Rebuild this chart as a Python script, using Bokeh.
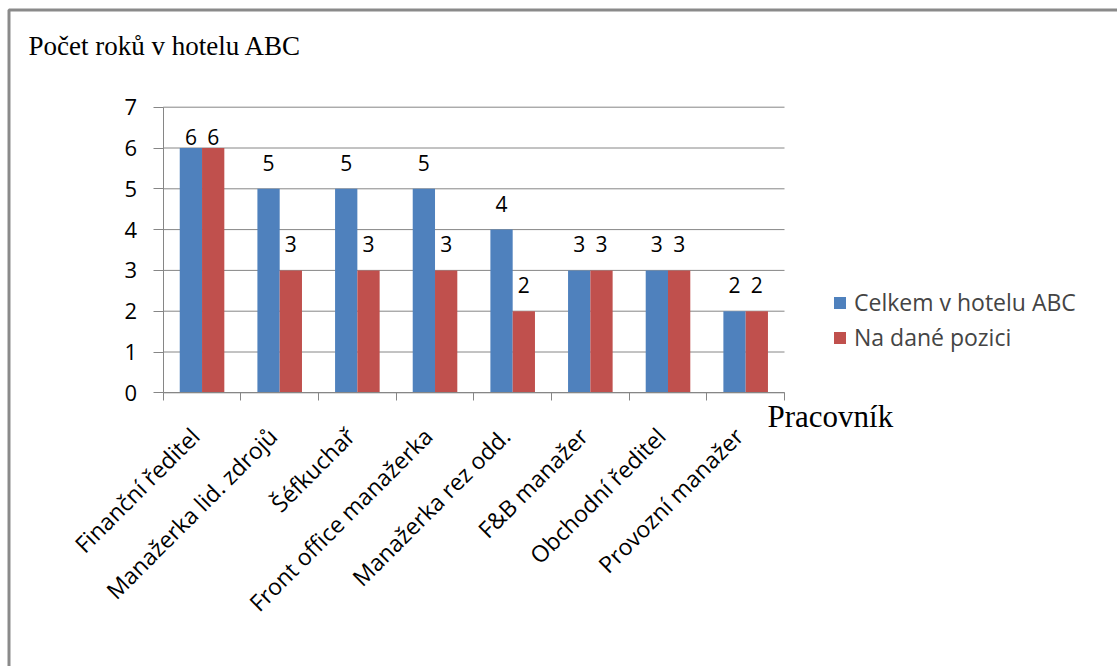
from math import pi
import numpy as np
from bokeh.plotting import figure
from bokeh.models import (ColumnDataSource, Range1d, LinearAxis, FixedTicker, Label, LabelSet,
                          Legend, LegendItem, BoxAnnotation)
from bokeh.core.properties import value
from bokeh.embed import file_html
from bokeh.resources import INLINE

# ---- data ----
categories = ["Finanční ředitel", "Manažerka lid. zdrojů", "Šéfkuchař", "Front office manažerka",
              "Manažerka rez odd.", "F&B manažer", "Obchodní ředitel", "Provozní manažer"]
celkem = [6, 5, 5, 5, 4, 3, 3, 2]
pozice = [6, 3, 3, 3, 2, 3, 3, 2]
series_names = ["Celkem v hotelu ABC", "Na dané pozici"]
y_ticks = [0, 1, 2, 3, 4, 5, 6, 7]
title_text = "Počet roků v hotelu ABC"
x_title = "Pracovník"

BLUE = "#4F81BD"
RED = "#C0504D"
GRAY = "#868686"
CAL = "Open Sans"
SERIF = "Liberation Serif"

# ---- layout (page pixels) ----
W, H = 1117, 666
PL, PR, PT, PB = 162.7, 784.0, 106.7, 392.3   # plot-area edges
n = len(categories)
ymax = y_ticks[-1]
kx = (PR - PL) / n
ky = (PB - PT) / ymax
x_start, x_end = -PL / kx, n + (W - PR) / kx
y_start, y_end = -(H - PB) / ky, ymax + PT / ky

centers = np.arange(n) + 0.5
bw = 0.287
label_shift = -7 / kx        # rotated category labels sit slightly left of the category centre

def offs(vals):
    return [3 if v >= max(vals) else 18 for v in vals]

src = ColumnDataSource(dict(
    xc=centers - bw / 2, xp=centers + bw / 2,
    celkem=celkem, pozice=pozice,
    celkem_t=[str(v) for v in celkem], pozice_t=[str(v) for v in pozice],
    off_c=offs(celkem), off_p=offs(pozice),
))

p = figure(width=W, height=H, x_range=Range1d(x_start, x_end), y_range=Range1d(y_start, y_end),
           output_backend="svg", toolbar_location=None,
           x_axis_location=None, y_axis_location=None,
           min_border=0, min_border_left=0, min_border_right=0, min_border_top=0, min_border_bottom=0)
p.outline_line_color = None
p.background_fill_color = "white"
p.border_fill_color = "white"
for g in p.grid:
    g.visible = False

# horizontal gridlines across the plot area
p.segment(x0=0, x1=n, y0=y_ticks, y1=y_ticks, line_color=GRAY, line_width=1)

r1 = p.vbar(x="xc", top="celkem", width=bw, source=src, fill_color=BLUE, line_color=None)
r2 = p.vbar(x="xp", top="pozice", width=bw, source=src, fill_color=RED, line_color=None)

for col, txt, off, xcol in [("celkem", "celkem_t", "off_c", "xc"), ("pozice", "pozice_t", "off_p", "xp")]:
    ls = LabelSet(x=xcol, y=col, text=txt, y_offset=off, source=src,
                  text_align="center", text_baseline="alphabetic",
                  text_font=value(CAL), text_font_size="21px", text_color="black")
    p.add_layout(ls)

# y axis
yax = LinearAxis(ticker=FixedTicker(ticks=y_ticks), fixed_location=0, bounds=(0, ymax))
yax.axis_line_color = GRAY
yax.major_tick_line_color = GRAY
yax.major_tick_out = 10
yax.major_tick_in = 0
yax.minor_tick_line_color = None
yax.major_label_text_font = CAL
yax.major_label_text_font_size = "22px"
yax.major_label_text_color = "black"
yax.major_label_standoff = 16
p.add_layout(yax, "left")

# x tick axis (category boundaries)
tax = LinearAxis(ticker=FixedTicker(ticks=list(range(n + 1))), fixed_location=0, bounds=(0, n))
tax.axis_line_color = GRAY
tax.major_tick_line_color = GRAY
tax.major_tick_out = 8
tax.major_tick_in = 0
tax.minor_tick_line_color = None
tax.major_label_text_font_size = "1px"
tax.major_label_text_alpha = 0
tax.major_label_standoff = 0
p.add_layout(tax, "below")

# category label axis
label_pos = [float(c + label_shift) for c in centers]
cax = LinearAxis(ticker=FixedTicker(ticks=label_pos), fixed_location=0, bounds=(0, n))
cax.major_label_overrides = {lp: name for lp, name in zip(label_pos, categories)}
cax.axis_line_color = None
cax.major_tick_line_color = None
cax.minor_tick_line_color = None
cax.major_label_orientation = pi / 4
cax.major_label_text_font = CAL
cax.major_label_text_font_size = "23px"
cax.major_label_text_color = "black"
cax.major_label_standoff = 33
p.add_layout(cax, "below")

# legend (screen units from the bottom-left corner)
legend = Legend(items=[LegendItem(label=series_names[0], renderers=[r1]),
                       LegendItem(label=series_names[1], renderers=[r2])],
                location=(832, H - 353))
legend.glyph_width = 15
legend.glyph_height = 15
legend.label_text_font = CAL
legend.label_text_font_size = "23px"
legend.label_standoff = 7
legend.spacing = 3
legend.padding = 0
legend.margin = 0
legend.border_line_color = None
legend.background_fill_alpha = 0
p.add_layout(legend)

# titles
p.add_layout(Label(x=28, y=H - 45, x_units="screen", y_units="screen", text=title_text,
                   text_font=SERIF, text_font_size="27px", text_color="black",
                   text_baseline="alphabetic"))
p.add_layout(Label(x=767, y=H - 416, x_units="screen", y_units="screen", text=x_title,
                   text_font=SERIF, text_font_size="31px", text_color="black",
                   text_baseline="alphabetic"))

# outer frame of the chart
p.add_layout(BoxAnnotation(left=8.5, right=W + 20, top=H - 9.5, bottom=-20,
                           left_units="screen", right_units="screen",
                           top_units="screen", bottom_units="screen",
                           fill_color=None, fill_alpha=0, line_color="#8a8a8a",
                           line_alpha=1, line_width=3))

open("out.html", "w").write(file_html(p, INLINE))
